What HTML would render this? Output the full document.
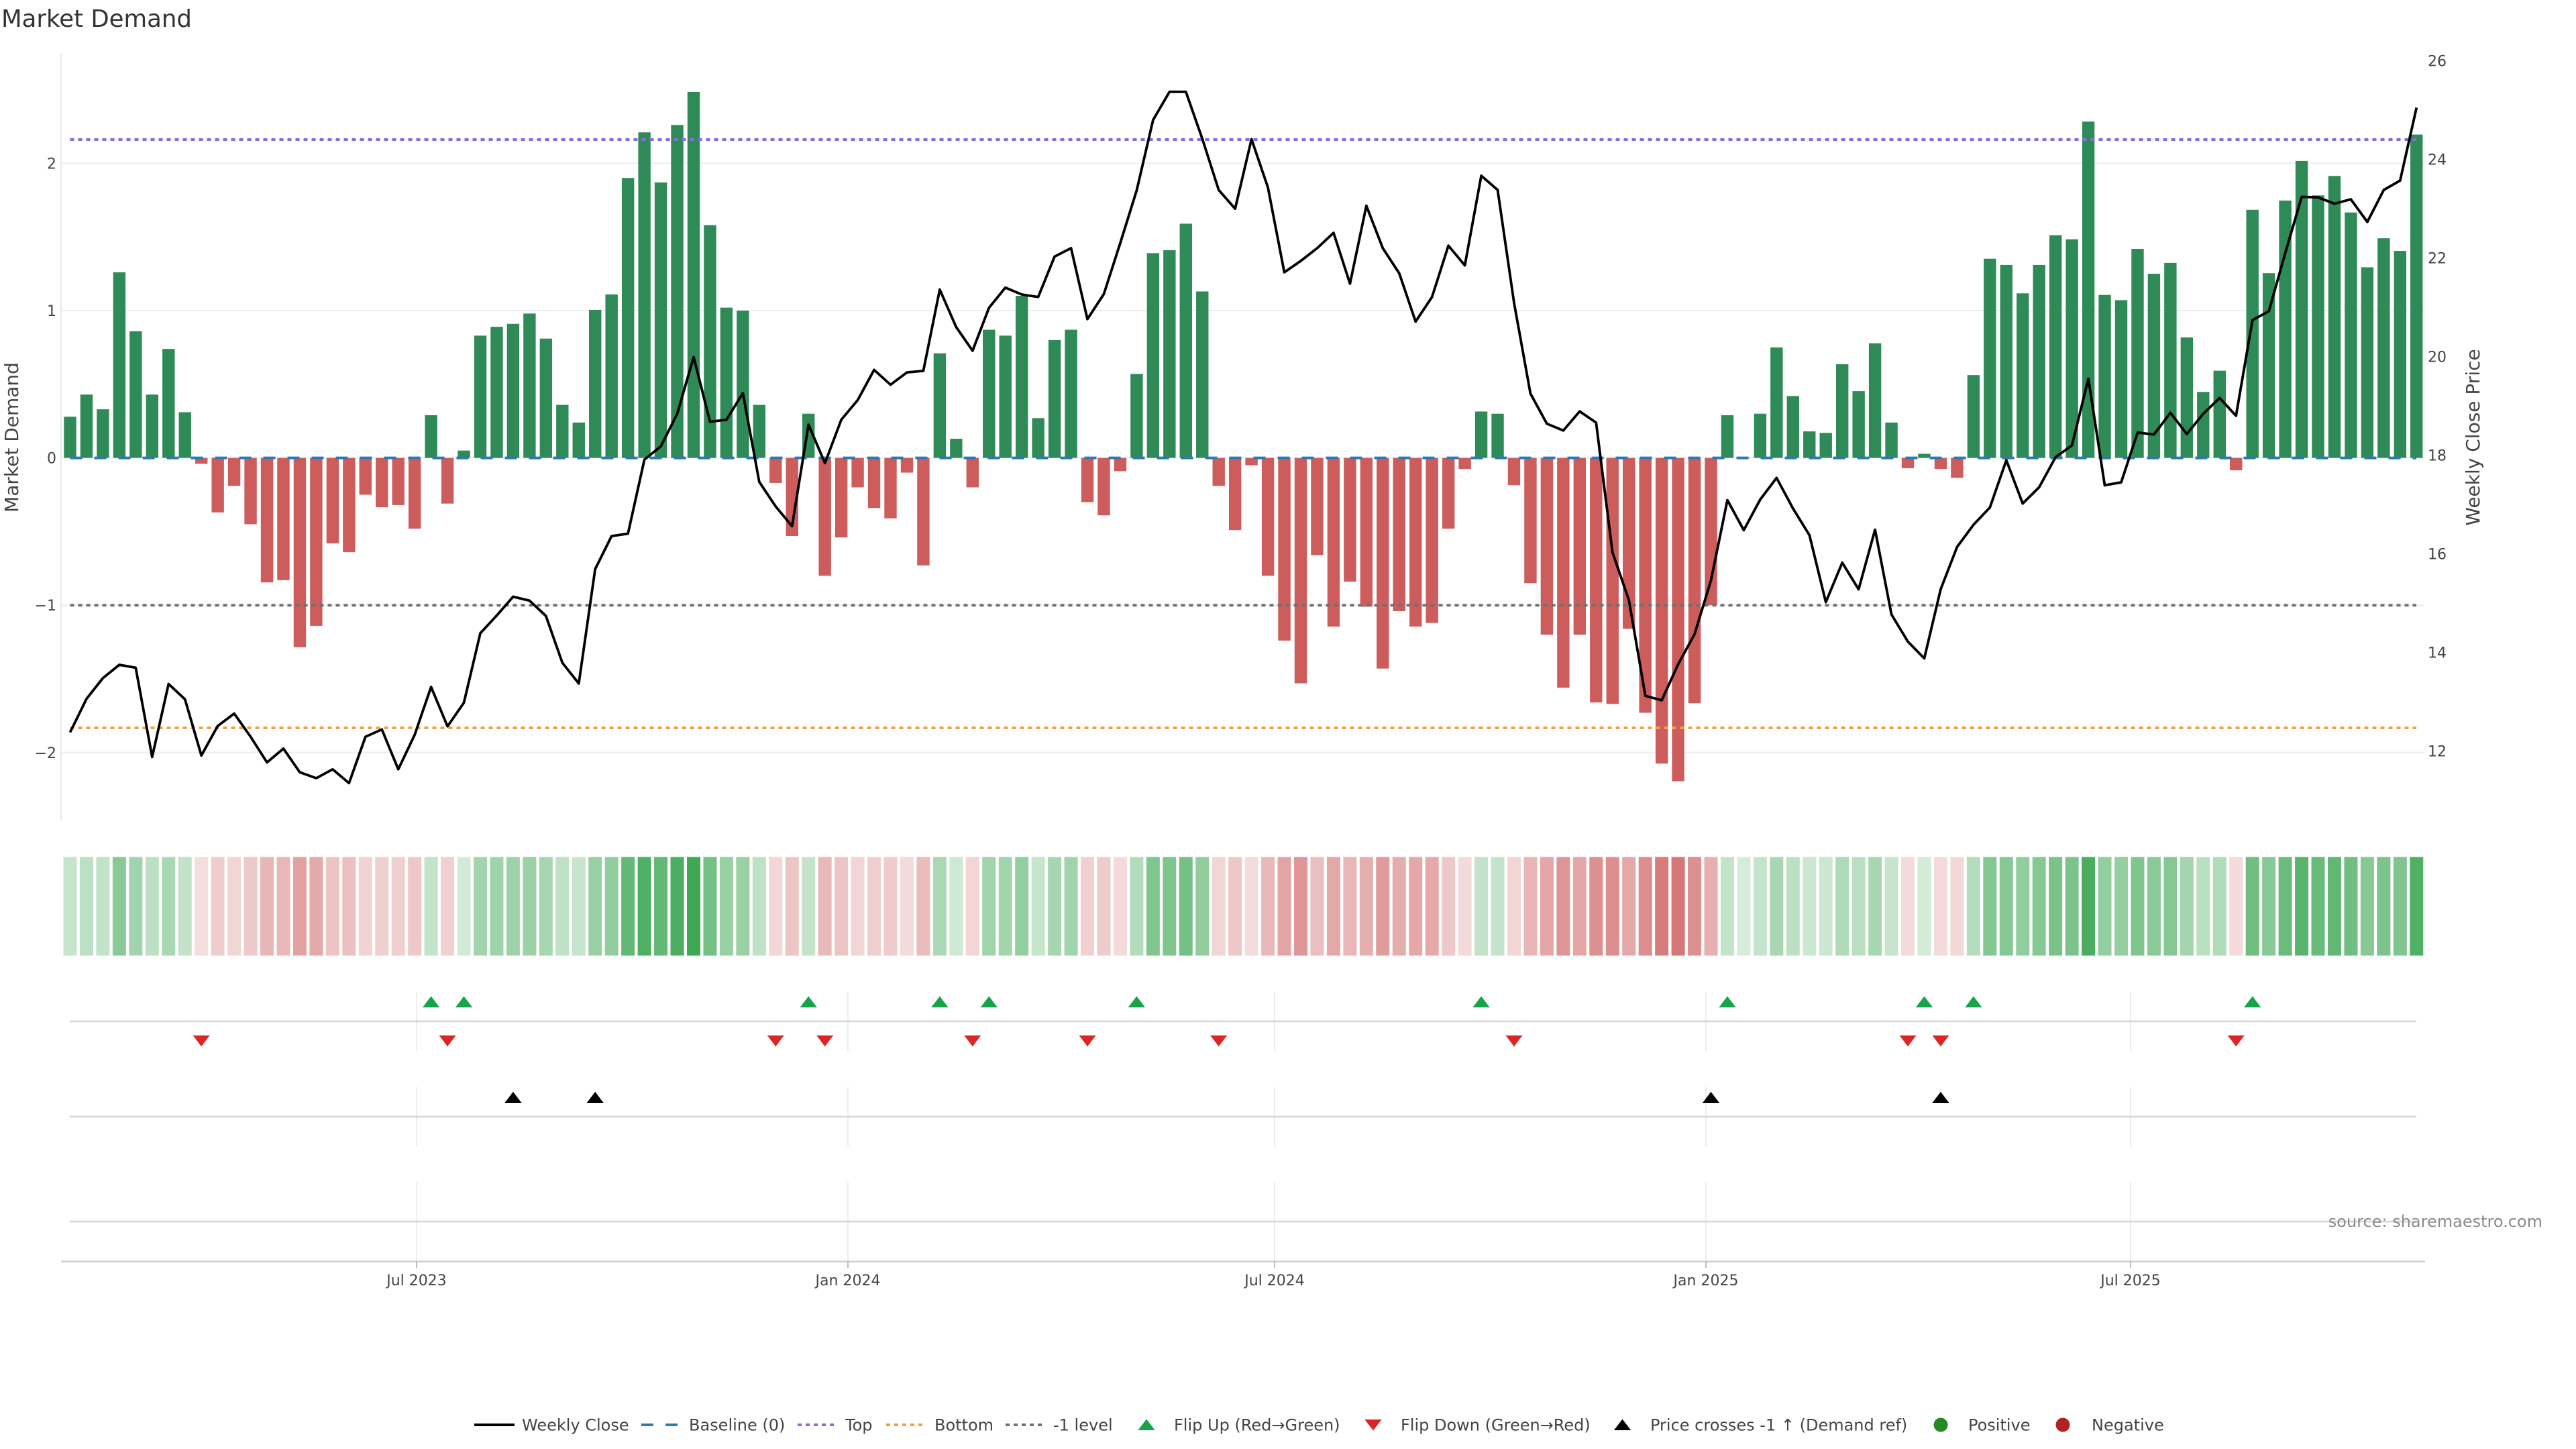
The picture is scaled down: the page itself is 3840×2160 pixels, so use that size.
<!DOCTYPE html>
<html><head><meta charset="utf-8">
<style>
html,body{margin:0;padding:0;background:#fff;}
svg{display:block;font-family:"DejaVu Sans","Liberation Sans",sans-serif;}
</style></head>
<body>
<svg id="c" width="3840" height="2160" viewBox="0 0 3840 2160" xmlns="http://www.w3.org/2000/svg">
<rect width="3840" height="2160" fill="#fff"/>
<text x="2" y="40" font-size="35.5" fill="#333">Market Demand</text>
<g stroke="#ebeef3" stroke-width="2">
<line x1="91" x2="3614" y1="243.4" y2="243.4"/>
<line x1="91" x2="3614" y1="463" y2="463"/>
<line x1="91" x2="3614" y1="682.6" y2="682.6"/>
<line x1="91" x2="3614" y1="902.2" y2="902.2"/>
<line x1="91" x2="3614" y1="1121.8" y2="1121.8"/>
</g>
<line x1="91" x2="91" y1="79" y2="1223" stroke="#e9e9e9" stroke-width="2"/>
<g id="bars"></g>
<line x1="104.5" x2="3602" y1="682.6" y2="682.6" stroke="#2f78b1" stroke-width="4" stroke-dasharray="18 18"/>
<line x1="104.5" x2="3602" y1="208" y2="208" stroke="#8470d8" stroke-width="4" stroke-dasharray="6 6"/>
<line x1="104.5" x2="3602" y1="1085" y2="1085" stroke="#f0a03c" stroke-width="4" stroke-dasharray="6 6"/>
<line x1="104.5" x2="3602" y1="902.2" y2="902.2" stroke="#707070" stroke-width="4" stroke-dasharray="6 6"/>
<polyline id="price" fill="none" stroke="#000" stroke-width="3.8" stroke-linejoin="round"/>
<g font-size="22" fill="#444" text-anchor="end">
<text x="84" y="251.4">2</text>
<text x="84" y="471">1</text>
<text x="84" y="690.6">0</text>
<text x="84" y="910.2">−1</text>
<text x="84" y="1129.8">−2</text>
</g>
<g font-size="22" fill="#444">
<text x="3619" y="98.6">26</text>
<text x="3619" y="245.6">24</text>
<text x="3619" y="392.6">22</text>
<text x="3619" y="539.6">20</text>
<text x="3619" y="686.6">18</text>
<text x="3619" y="833.6">16</text>
<text x="3619" y="980.6">14</text>
<text x="3619" y="1127.6">12</text>
</g>
<text transform="translate(17,652) rotate(-90)" y="10" text-anchor="middle" font-size="28" fill="#444">Market Demand</text>
<text transform="translate(3686,652) rotate(-90)" y="10" text-anchor="middle" font-size="28" fill="#444">Weekly Close Price</text>
<g id="heat"></g>
<g stroke="#eeeeee" stroke-width="2" id="vgrid"></g>
<g stroke="#d6d6d6" stroke-width="2.5">
<line x1="104" x2="3602" y1="1522.5" y2="1522.5"/>
<line x1="104" x2="3602" y1="1664.5" y2="1664.5"/>
<line x1="104" x2="3602" y1="1821" y2="1821"/>
</g>
<line x1="91" x2="3615" y1="1880.5" y2="1880.5" stroke="#cfcfcf" stroke-width="2.5"/>
<g id="marks"></g>
<g id="ticks" font-size="22" fill="#444" text-anchor="middle"></g>
<text x="3790" y="1829" font-size="24" fill="#8a8a8a" text-anchor="end">source: sharemaestro.com</text>
<g id="legend" font-size="24" fill="#444">
<line x1="707" x2="767" y1="2124" y2="2124" stroke="#000" stroke-width="4"/>
<text x="778" y="2132.6">Weekly Close</text>
<line x1="956" x2="1012" y1="2124" y2="2124" stroke="#2f78b1" stroke-width="4" stroke-dasharray="18 18"/>
<text x="1027" y="2132.6">Baseline (0)</text>
<line x1="1189" x2="1249" y1="2124" y2="2124" stroke="#8470d8" stroke-width="4" stroke-dasharray="6 6"/>
<text x="1260" y="2132.6">Top</text>
<line x1="1321" x2="1381" y1="2124" y2="2124" stroke="#f0a03c" stroke-width="4" stroke-dasharray="6 6"/>
<text x="1393" y="2132.6">Bottom</text>
<line x1="1499" x2="1559" y1="2124" y2="2124" stroke="#707070" stroke-width="4" stroke-dasharray="6 6"/>
<text x="1570" y="2132.6">-1 level</text>
<polygon points="1696.3,2132 1721.7,2132 1709,2115.5" fill="#16a34a"/>
<text x="1750" y="2132.6">Flip Up (Red→Green)</text>
<polygon points="2034.3,2116 2059.7,2116 2047,2132.5" fill="#dc2626"/>
<text x="2088" y="2132.6">Flip Down (Green→Red)</text>
<polygon points="2405.8,2132 2431.2,2132 2418.5,2115.5" fill="#000"/>
<text x="2460" y="2132.6">Price crosses -1 ↑ (Demand ref)</text>
<circle cx="2893" cy="2124" r="10.5" fill="#228b22"/>
<text x="2934" y="2132.6">Positive</text>
<circle cx="3075" cy="2124" r="10.5" fill="#b22222"/>
<text x="3118" y="2132.6">Negative</text>
</g>
</svg>
<script>
(function(){
var NS="http://www.w3.org/2000/svg";
var d=[0.28,0.43,0.33,1.26,0.86,0.43,0.74,0.31,-0.04,-0.37,
-0.19,-0.45,-0.845,-0.83,-1.285,-1.14,-0.58,-0.64,-0.25,-0.335,
-0.32,-0.48,0.29,-0.31,0.05,0.83,0.89,0.91,0.98,0.81,
0.36,0.24,1.005,1.11,1.9,2.21,1.87,2.26,2.485,1.58,
1.02,1.0,0.36,-0.17,-0.53,0.3,-0.8,-0.54,-0.2,-0.34,
-0.41,-0.1,-0.73,0.71,0.13,-0.2,0.87,0.83,1.1,0.27,
0.8,0.87,-0.3,-0.39,-0.09,0.57,1.39,1.41,1.59,1.13,
-0.19,-0.49,-0.05,-0.8,-1.24,-1.53,-0.66,-1.145,-0.84,-1.01,
-1.43,-1.04,-1.145,-1.12,-0.48,-0.075,0.315,0.3,-0.185,-0.85,
-1.2,-1.56,-1.2,-1.66,-1.67,-1.16,-1.73,-2.075,-2.195,-1.665,
-1.0,0.29,0.005,0.3,0.75,0.42,0.18,0.17,0.636,0.453,
0.778,0.24,-0.07,0.028,-0.075,-0.135,0.562,1.352,1.31,1.117,
1.31,1.512,1.484,2.283,1.106,1.071,1.419,1.25,1.324,0.818,
0.448,0.592,-0.084,1.684,1.254,1.747,2.016,1.782,1.914,1.666,
1.294,1.491,1.405,2.195];
var p=[12.38,13.06,13.48,13.75,13.69,11.88,13.36,13.05,11.91,12.51,
12.76,12.29,11.77,12.05,11.57,11.45,11.63,11.35,12.29,12.44,
11.63,12.33,13.30,12.50,12.98,14.39,14.75,15.13,15.05,14.74,
13.79,13.37,15.69,16.36,16.41,17.91,18.18,18.84,19.99,18.68,
18.72,19.26,17.46,16.96,16.56,18.62,17.84,18.72,19.12,19.73,
19.43,19.68,19.71,21.36,20.60,20.12,20.99,21.40,21.26,21.21,
22.03,22.20,20.76,21.27,22.30,23.37,24.80,25.37,25.37,24.42,
23.38,23.00,24.41,23.43,21.71,21.94,22.20,22.51,21.48,23.06,
22.20,21.69,20.71,21.21,22.25,21.85,23.67,23.38,21.09,19.25,
18.64,18.50,18.89,18.66,16.03,15.06,13.12,13.03,13.76,14.37,
15.46,17.09,16.48,17.10,17.54,16.92,16.38,15.02,15.82,15.28,
16.49,14.77,14.22,13.88,15.28,16.14,16.59,16.94,17.90,17.02,
17.35,17.96,18.20,19.55,17.39,17.45,18.46,18.42,18.86,18.43,
18.84,19.16,18.80,20.74,20.92,22.10,23.24,23.23,23.10,23.19,
22.73,23.38,23.57,25.05];
function X(k){return 104.5+24.46*k;}
function Yd(v){return 682.6-219.6*v;}
function Yp(q){return 2001.6-73.5*q;}
function el(tag,attrs,parent){var e=document.createElementNS(NS,tag);for(var a in attrs)e.setAttribute(a,attrs[a]);parent.appendChild(e);return e;}
var bars=document.getElementById('bars'),heat=document.getElementById('heat');
var pts=[];
for(var k=0;k<d.length;k++){
 var v=d[k],x=X(k),y0=Yd(0),y1=Yd(v);
 el('rect',{x:(x-9.2).toFixed(2),y:Math.min(y0,y1).toFixed(2),width:18.4,height:Math.max(0.8,Math.abs(y1-y0)).toFixed(2),fill:v>=0?'#2e8b57':'#cd5c5c'},bars);
 var a=Math.min(0.93,0.2+0.29*Math.abs(v));
 var base=v>=0?[46,160,70]:[205,92,92];
 var c=base.map(function(b){return Math.round(255-a*(255-b));});
 el('rect',{x:(x-10).toFixed(2),y:1277.5,width:20,height:147,fill:'rgb('+c.join(',')+')'},heat);
 pts.push(x.toFixed(1)+','+Yp(p[k]).toFixed(1));
}
document.getElementById('price').setAttribute('points',pts.join(' '));
var ticks=[[621,'Jul 2023'],[1264,'Jan 2024'],[1900,'Jul 2024'],[2543,'Jan 2025'],[3176,'Jul 2025']];
var vg=document.getElementById('vgrid'),tg=document.getElementById('ticks');
ticks.forEach(function(t){
 el('line',{x1:t[0],x2:t[0],y1:1479,y2:1567},vg);
 el('line',{x1:t[0],x2:t[0],y1:1620,y2:1709},vg);
 el('line',{x1:t[0],x2:t[0],y1:1762,y2:1880},vg);
 el('line',{x1:t[0],x2:t[0],y1:1880,y2:1890,stroke:'#bdbdbd','stroke-width':2},tg);
 var tx=el('text',{x:t[0],y:1916},tg);tx.textContent=t[1];
});
var mk=document.getElementById('marks');
var up=[23,25,46,54,57,66,87,102,114,117,134],dn=[9,24,44,47,56,63,71,89,113,115,133],bl=[28,33,101,115];
up.forEach(function(i){var x=X(i-1);el('polygon',{points:(x-12.5)+',1501.5 '+(x+12.5)+',1501.5 '+x+',1485',fill:'#16a34a'},mk);});
dn.forEach(function(i){var x=X(i-1);el('polygon',{points:(x-12.5)+',1543.5 '+(x+12.5)+',1543.5 '+x+',1560',fill:'#dc2626'},mk);});
bl.forEach(function(i){var x=X(i-1);el('polygon',{points:(x-12.5)+',1644 '+(x+12.5)+',1644 '+x+',1627.5',fill:'#000'},mk);});
})();
</script>
</body></html>
